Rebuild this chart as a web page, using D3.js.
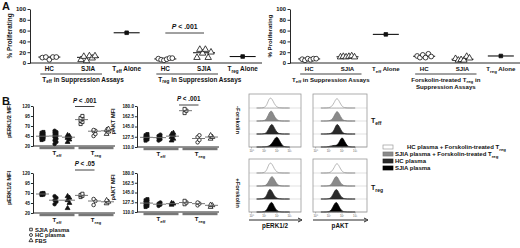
<!DOCTYPE html>
<html><head><meta charset="utf-8">
<script src="https://cdn.jsdelivr.net/npm/d3@7"></script>
<style>
body{margin:0;background:#fff}
svg{display:block;font-family:"Liberation Sans",Arial,sans-serif;font-weight:bold;fill:#111}
</style>
</head><body><svg id="c" width="520" height="248"></svg>
<script>
// ---------------- DATA ----------------
// Panel A
const aTicks = [0, 20, 40, 60, 80, 100];
const aLeftCats  = ["HC", "SJIA", "T_{eff} Alone", "HC", "SJIA", "T_{reg} Alone"];
const aRightCats = ["HC", "SJIA", "T_{eff} Alone", "HC", "SJIA", "T_{reg} Alone"];
const aLeftHC        = [10, 11, 6, 11, 11];
const aLeftSJIA      = [6, 12, 4, 13, 9, 13];
const aLeftTeffAlone = [56];
const aLeftTregHC    = [8, 6, 5, 7, 9, 9];
const aLeftTregSJIA  = [10, 25, 18, 25, 10, 20];
const aLeftTregAlone = [12];
const aRightHC        = [7, 5, 8, 6, 8, 8];
const aRightSJIA      = [11, 12, 11, 12, 13, 11];
const aRightTeffAlone = [53];
const aRightFskHC     = [13, 10, 15, 10, 17, 12];
const aRightFskSJIA   = [8, 5, 6, 5, 12, 9];
const aRightTregAlone = [13];
const aLeftGroups  = ["T_{eff} in Suppression Assays", "T_{reg} in Suppression Assays"];
const aRightGroups = ["T_{eff} in Suppression Assays", "Forskolin-treated  T_{reg} in|Suppression Assays"];
const aLeftP = "P < .001";

// Panel B scatter (columns: SJIA plasma, HC plasma, FBS for Teff then Treg)
const bGroups = ["T_{eff}", "T_{reg}"];
const bLegend = ["SJIA plasma", "HC plasma", "FBS"];
const erkTicks = [20, 45, 70, 95, 120];
const aktTicks = [110, 127.5, 145, 162.5, 180];
// -Forskolin, pERK1/2
const erkMinusTeffSJIA = [35, 37, 39, 41, 43, 44, 45, 47, 49, 51, 53, 55];
const erkMinusTeffHC   = [25, 30, 34, 38, 42, 45, 47, 50, 53, 55, 58];
const erkMinusTeffFBS  = [30, 36, 40, 42, 43, 45, 47];
const erkMinusTregSJIA = [75, 80, 84, 88, 90, 95];
const erkMinusTregHC   = [45, 50, 57, 58, 60];
const erkMinusTregFBS  = [50, 56, 60, 63];
// -Forskolin, pAKT
const aktMinusTeffSJIA = [121, 123, 124, 126, 127, 128, 130, 132];
const aktMinusTeffHC   = [121, 123, 125, 127, 129, 131];
const aktMinusTeffFBS  = [121, 124, 127, 130, 132, 134];
const aktMinusTregSJIA = [168, 172, 175];
const aktMinusTregHC   = [118, 122, 127, 130];
const aktMinusTregFBS  = [124, 127, 130];
// +Forskolin, pERK1/2
const erkPlusTeffSJIA = [65, 66, 67, 68, 69, 70];
const erkPlusTeffHC   = [42, 48, 52, 58, 62];
const erkPlusTeffFBS  = [32, 45, 52, 58, 62];
const erkPlusTregSJIA = [60, 63, 65, 68];
const erkPlusTregHC   = [40, 50, 55];
const erkPlusTregFBS  = [44, 48, 52];
// +Forskolin, pAKT
const aktPlusTeffSJIA = [119, 121, 123, 125, 127, 129, 131, 133];
const aktPlusTeffHC   = [121, 123, 125, 127];
const aktPlusTeffFBS  = [123, 125, 126];
const aktPlusTregSJIA = [124, 127, 130];
const aktPlusTregHC   = [122, 125, 127];
const aktPlusTregFBS  = [119, 122, 123];

// Histograms (relative counts per log-decade bin)
const histBins  = [0.4, 0.6, 0.8, 1.0, 1.2, 1.4, 1.6, 1.8, 2.0, 2.2, 2.4, 2.6, 2.8, 3.0];
const histTicks = ["10\u2070", "10\u00b9", "10\u00b2", "10\u00b3"];
const histLegend = ["HC plasma + Forskolin-treated  T_{reg}", "SJIA plasma + Forskolin-treated T_{reg}", "HC plasma", "SJIA plasma"];
const erkMinusHist = [
  [0, 0, 1, 4, 22, 95, 90, 35, 8, 2, 0, 0, 0, 0],
  [0, 0, 1, 3, 18, 80, 100, 40, 10, 2, 0, 0, 0, 0],
  [0, 0, 0, 2, 12, 60, 100, 55, 12, 3, 0, 0, 0, 0],
  [0, 0, 0, 1, 3, 10, 30, 70, 100, 60, 15, 3, 0, 0]
];
const aktMinusHist = [
  [0, 0, 0, 2, 10, 45, 100, 60, 12, 3, 0, 0, 0, 0],
  [0, 0, 0, 2, 8, 40, 100, 65, 14, 3, 0, 0, 0, 0],
  [0, 0, 0, 1, 6, 30, 100, 70, 15, 3, 0, 0, 0, 0],
  [0, 0, 0, 4, 10, 16, 12, 45, 100, 50, 8, 1, 0, 0]
];
const erkPlusHist = [
  [0, 0, 1, 4, 22, 95, 90, 35, 8, 2, 0, 0, 0, 0],
  [0, 0, 0, 2, 10, 50, 100, 60, 15, 3, 0, 0, 0, 0],
  [0, 0, 1, 5, 30, 100, 75, 25, 6, 1, 0, 0, 0, 0],
  [0, 0, 0, 3, 15, 70, 100, 45, 10, 2, 0, 0, 0, 0]
];
const aktPlusHist = [
  [0, 0, 0, 2, 10, 45, 100, 60, 12, 3, 0, 0, 0, 0],
  [0, 0, 0, 2, 12, 65, 100, 45, 10, 2, 0, 0, 0, 0],
  [0, 0, 0, 2, 12, 65, 100, 45, 10, 2, 0, 0, 0, 0],
  [0, 0, 0, 3, 15, 70, 100, 40, 8, 2, 0, 0, 0, 0]
];

// ---------------- HELPERS ----------------
const svg = d3.select("#c");
const INK = "#111";

function rich(textSel, str, size) {
  const re = /_\{([^}]*)\}/g; let last = 0, m, down = false;
  while ((m = re.exec(str))) {
    if (m.index > last) {
      const t = textSel.append("tspan").text(str.slice(last, m.index));
      if (down) { t.attr("dy", -size * 0.3); down = false; }
    }
    textSel.append("tspan").attr("dy", size * 0.3).attr("font-size", size * 0.72).text(m[1]);
    down = true; last = re.lastIndex;
  }
  if (last < str.length) {
    const t = textSel.append("tspan").text(str.slice(last));
    if (down) t.attr("dy", -size * 0.3);
  }
  return textSel;
}
function label(g, x, y, str, size, anchor, rot) {
  const t = g.append("text").attr("font-size", size).attr("text-anchor", anchor || "middle").attr("fill", INK);
  if (rot) t.attr("transform", `translate(${x},${y}) rotate(${rot})`);
  else t.attr("x", x).attr("y", y);
  return rich(t, str, size);
}
function pText(g, x, y, str, size) {
  const t = g.append("text").attr("x", x).attr("y", y).attr("font-size", size).attr("text-anchor", "middle").attr("fill", INK);
  t.append("tspan").attr("font-style", "italic").text(str.slice(0, 1));
  t.append("tspan").text(str.slice(1));
}
const shapes = { circle: d3.symbolCircle, square: d3.symbolSquare, triangle: d3.symbolTriangle };
function marker(g, x, y, shape, filled, size) {
  g.append("path").attr("d", d3.symbol(shapes[shape], size)())
    .attr("transform", `translate(${x},${y})`)
    .attr("fill", filled ? INK : "#fff").attr("stroke", INK).attr("stroke-width", 0.8);
}
function styleAxis(ax, fs) {
  ax.attr("font-family", null).attr("font-size", fs);
  ax.selectAll("path,line").attr("stroke", INK).attr("stroke-width", 0.9);
  ax.selectAll("text").attr("fill", INK);
}

// ---------------- PANEL A ----------------
function drawA(cfg) {
  const g = svg.append("g");
  const x = d3.scaleBand().domain(d3.range(cfg.cats.length)).range([cfg.axisX, cfg.xEnd]);
  const cx = i => x(i) + x.bandwidth() / 2;
  const y = d3.scaleLinear().domain([0, 100]).range([63, 9]);
  const ax = g.append("g").attr("transform", `translate(${cfg.axisX},0)`)
    .call(d3.axisLeft(y).tickValues(aTicks).tickSize(2.5).tickSizeOuter(0).tickPadding(1.5));
  styleAxis(ax, cfg.tickFs);
  g.append("line").attr("x1", cfg.axisX).attr("x2", cfg.xEnd).attr("y1", y(0)).attr("y2", y(0)).attr("stroke", INK).attr("stroke-width", 0.9);
  label(g, cfg.axisX - 18, (y(0) + y(100)) / 2, "% Proliferating", cfg.fs, "middle", -90);
  cfg.series.forEach((s, i) => {
    const n = s.vals.length, c = cx(i);
    if (s.alone) {
      g.append("line").attr("x1", c - 13).attr("x2", c + 13).attr("y1", y(s.vals[0])).attr("y2", y(s.vals[0])).attr("stroke", INK).attr("stroke-width", 1.1);
      marker(g, c, y(s.vals[0]), "square", true, 13);
    } else {
      const med = d3.median(s.vals);
      g.append("line").attr("x1", c - 11).attr("x2", c + 11).attr("y1", y(med)).attr("y2", y(med)).attr("stroke", INK).attr("stroke-width", 1);
      s.vals.forEach((v, j) => marker(g, c + (j - (n - 1) / 2) * (14 / (n - 1)), y(v), s.shape, false, 18));
    }
    label(g, c, 71, cfg.cats[i], cfg.fs, "middle");
  });
  cfg.groups.forEach(gr => {
    const x1 = cx(gr.from) - 9, x2 = cx(gr.to) + 14;
    g.append("line").attr("x1", x1).attr("x2", x2).attr("y1", 74).attr("y2", 74).attr("stroke", INK).attr("stroke-width", 0.8);
    gr.text.split("|").forEach((line, k) => {
      label(g, gr.anchor === "start" ? x1 + 2 : (x1 + x2) / 2, 81.5 + k * 7.5, line, cfg.fs, gr.anchor);
    });
  });
  if (cfg.p) {
    const x1 = cx(cfg.p.from), x2 = cx(cfg.p.to);
    g.append("line").attr("x1", x1).attr("x2", x2).attr("y1", 33).attr("y2", 33).attr("stroke", INK).attr("stroke-width", 0.8);
    pText(g, (x1 + x2) / 2, 29, cfg.p.text, cfg.fs + 0.5);
  }
}
drawA({
  axisX: 30, xEnd: 262, fs: 6.4, tickFs: 6, cats: aLeftCats,
  series: [
    { vals: aLeftHC, shape: "circle" }, { vals: aLeftSJIA, shape: "triangle" }, { vals: aLeftTeffAlone, alone: true },
    { vals: aLeftTregHC, shape: "circle" }, { vals: aLeftTregSJIA, shape: "triangle" }, { vals: aLeftTregAlone, alone: true }
  ],
  groups: [{ from: 0, to: 1, text: aLeftGroups[0], anchor: "start" }, { from: 3, to: 4, text: aLeftGroups[1], anchor: "start" }],
  p: { from: 3, to: 4, text: aLeftP }
});
drawA({
  axisX: 290, xEnd: 520, fs: 6.1, tickFs: 5.8, cats: aRightCats,
  series: [
    { vals: aRightHC, shape: "circle" }, { vals: aRightSJIA, shape: "triangle" }, { vals: aRightTeffAlone, alone: true },
    { vals: aRightFskHC, shape: "circle" }, { vals: aRightFskSJIA, shape: "triangle" }, { vals: aRightTregAlone, alone: true }
  ],
  groups: [{ from: 0, to: 1, text: aRightGroups[0], anchor: "middle" }, { from: 3, to: 4, text: aRightGroups[1], anchor: "middle" }]
});
label(svg, 2, 10, "A", 11, "start");
label(svg, 2, 105, "B", 11, "start");

// ---------------- PANEL B scatter ----------------
function drawB(cfg) {
  const g = svg.append("g");
  const x = d3.scaleBand().domain(d3.range(6)).range([cfg.axisX + 3, cfg.axisX + 81]);
  const cx = i => x(i) + x.bandwidth() / 2;
  const y = d3.scaleLinear().domain([cfg.ticks[0], cfg.ticks[cfg.ticks.length - 1]]).range(cfg.yRange);
  const ax = g.append("g").attr("transform", `translate(${cfg.axisX},0)`)
    .call(d3.axisLeft(y).tickValues(cfg.ticks).tickFormat(d3.format(cfg.fmt)).tickSize(2).tickSizeOuter(0).tickPadding(1));
  styleAxis(ax, 4.6);
  const yb = cfg.yRange[0];
  g.append("line").attr("x1", cfg.axisX).attr("x2", cfg.axisX + 82).attr("y1", yb).attr("y2", yb).attr("stroke", INK).attr("stroke-width", 0.9);
  label(g, cfg.axisX - 22, (cfg.yRange[0] + cfg.yRange[1]) / 2 - 5, cfg.ylabel, 5.6, "middle", -90);
  const shp = ["square", "circle", "triangle"];
  cfg.cols.forEach((vals, i) => {
    const c = cx(i), filled = i < 3;
    const med = d3.median(vals);
    vals.forEach((v, j) => marker(g, c + (j % 2 ? 0.9 : -0.9), y(v), shp[i % 3], filled, 10));
    g.append("line").attr("x1", c - 6.5).attr("x2", c + 6.5).attr("y1", y(med)).attr("y2", y(med)).attr("stroke", "#666").attr("stroke-width", 0.9);
  });
  bGroups.forEach((gl, k) => {
    const x1 = cx(k * 3) - 3, x2 = cx(k * 3 + 2) + 6;
    g.append("rect").attr("x", x1).attr("y", yb + 0.6).attr("width", x2 - x1).attr("height", 2.6).attr("fill", "#777");
    label(g, (x1 + x2) / 2, yb + 9, gl, 6, "middle");
  });
  if (cfg.p) {
    const pc = d3.scaleLinear().domain([0, 5]).range([cx(0), cx(5)]);
    const x1 = pc(2.5), x2 = pc(4);
    g.append("line").attr("x1", x1).attr("x2", x2).attr("y1", cfg.p.y).attr("y2", cfg.p.y).attr("stroke", INK).attr("stroke-width", 0.8);
    pText(g, (x1 + x2) / 2, cfg.p.y - 4, cfg.p.text, 6.3);
  }
}
drawB({ axisX: 33, yRange: [146, 106], ticks: erkTicks, fmt: "d", ylabel: "pERK1/2 MFI",
  cols: [erkMinusTeffSJIA, erkMinusTeffHC, erkMinusTeffFBS, erkMinusTregSJIA, erkMinusTregHC, erkMinusTregFBS],
  p: { y: 106.5, text: "P < .001" } });
drawB({ axisX: 137, yRange: [147, 106], ticks: aktTicks, fmt: ".1f", ylabel: "pAKT MFI",
  cols: [aktMinusTeffSJIA, aktMinusTeffHC, aktMinusTeffFBS, aktMinusTregSJIA, aktMinusTregHC, aktMinusTregFBS],
  p: { y: 105, text: "P < .001" } });
drawB({ axisX: 33, yRange: [213, 173], ticks: erkTicks, fmt: "d", ylabel: "pERK1/2 MFI",
  cols: [erkPlusTeffSJIA, erkPlusTeffHC, erkPlusTeffFBS, erkPlusTregSJIA, erkPlusTregHC, erkPlusTregFBS],
  p: { y: 170, text: "P < .05" } });
drawB({ axisX: 137, yRange: [212, 173], ticks: aktTicks, fmt: ".1f", ylabel: "pAKT MFI",
  cols: [aktPlusTeffSJIA, aktPlusTeffHC, aktPlusTeffFBS, aktPlusTregSJIA, aktPlusTregHC, aktPlusTregFBS] });

// legend B
const lg = svg.append("g");
bLegend.forEach((t, i) => {
  marker(lg, 31, 229.5 + i * 5.5, ["square", "circle", "triangle"][i], false, 7);
  label(lg, 35, 231.5 + i * 5.5, t, 5.8, "start");
});

// ---------------- HISTOGRAMS ----------------
const histFill = ["#fff", "#8a8a8a", "#2a2a2a", "#000"];
const histStroke = ["#9a9a9a", "#777", "#222", "#000"];
function drawHist(cfg) {
  const g = svg.append("g");
  const w = cfg.x1 - cfg.x0, h = cfg.y1 - cfg.y0;
  const x = d3.scaleLinear().domain([-0.2, 3.9]).range([cfg.x0, cfg.x1]);
  const rowH = (h - 1) / 4;
  cfg.data.forEach((counts, i) => {
    const base = cfg.y0 + 1 + rowH * (i + 1);
    const yh = d3.scaleLinear().domain([0, 100]).range([base, base - 11]);
    g.append("line").attr("x1", cfg.x0).attr("x2", cfg.x1).attr("y1", base).attr("y2", base).attr("stroke", "#ccc").attr("stroke-width", 0.6);
    const area = d3.area().x((d, k) => x(histBins[k])).y0(base).y1(d => yh(d)).curve(d3.curveBasis);
    g.append("path").attr("d", area(counts)).attr("fill", histFill[i]).attr("stroke", histStroke[i]).attr("stroke-width", 0.7);
  });
  g.append("rect").attr("x", cfg.x0).attr("y", cfg.y0).attr("width", w).attr("height", h).attr("fill", "none").attr("stroke", "#999").attr("stroke-width", 0.8);
  histTicks.forEach((t, k) => {
    g.append("line").attr("x1", x(k)).attr("x2", x(k)).attr("y1", cfg.y1).attr("y2", cfg.y1 + 1.5).attr("stroke", "#777").attr("stroke-width", 0.5);
    g.append("text").attr("x", x(k)).attr("y", cfg.y1 + 4.5).attr("font-size", 2.8).attr("font-weight", "normal").attr("text-anchor", "middle").attr("fill", "#555").text(t);
  });
  if (cfg.xlabel) {
    const ay = cfg.y1 + 8;
    g.append("line").attr("x1", cfg.x0).attr("x2", cfg.x1 - 1).attr("y1", ay).attr("y2", ay).attr("stroke", INK).attr("stroke-width", 0.9);
    g.append("path").attr("d", `M${cfg.x1 - 3},${ay - 2}L${cfg.x1 + 1},${ay}L${cfg.x1 - 3},${ay + 2}`).attr("fill", "none").attr("stroke", INK).attr("stroke-width", 0.9);
    label(g, (cfg.x0 + cfg.x1) / 2, ay + 7.5, cfg.xlabel, 6.3, "middle");
  }
}
drawHist({ x0: 249, x1: 301, y0: 94, y1: 147, data: erkMinusHist });
drawHist({ x0: 313, x1: 367, y0: 94, y1: 147, data: aktMinusHist });
drawHist({ x0: 249, x1: 301, y0: 159, y1: 212, data: erkPlusHist, xlabel: "pERK1/2" });
drawHist({ x0: 313, x1: 367, y0: 159, y1: 212, data: aktPlusHist, xlabel: "pAKT" });
label(svg, 236, 120, "-Forskolin", 5.8, "middle", 90);
label(svg, 236, 193, "+Forskolin", 5.8, "middle", 90);
label(svg, 371, 123, "T_{eff}", 7, "start");
label(svg, 371, 190, "T_{reg}", 7, "start");

// legend right
const lr = svg.append("g");
histLegend.forEach((t, i) => {
  const yy = 147 + i * 7;
  lr.append("rect").attr("x", 383).attr("y", yy - 2).attr("width", 10).attr("height", 4)
    .attr("fill", histFill[i]).attr("stroke", histStroke[i]).attr("stroke-width", 0.7);
  label(lr, i === 0 ? 407 : 395, yy + 2, t, 6, "start");
});
</script>
</body></html>
